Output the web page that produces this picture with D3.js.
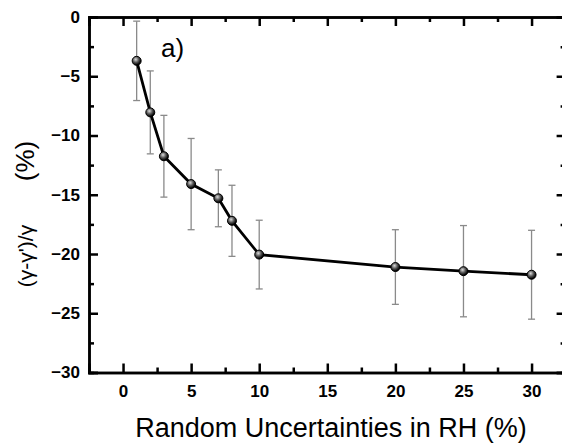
<!DOCTYPE html>
<html><head><meta charset="utf-8">
<script src="https://cdn.jsdelivr.net/npm/d3@7/dist/d3.min.js"></script>
<style>body{margin:0;background:#fff}svg{display:block}</style>
</head><body>
<script>
const xValues = [1, 2, 3, 5, 7, 8, 10, 20, 25, 30];
const yValues = [-3.7, -8.05, -11.75, -14.1, -15.3, -17.2, -20.05, -21.1, -21.45, -21.75];
const errValues = [3.35, 3.5, 3.45, 3.85, 2.4, 3.0, 2.9, 3.15, 3.85, 3.75];
const xTicks = [0, 5, 10, 15, 20, 25, 30];
const yTicks = [0, -5, -10, -15, -20, -25, -30];
const xLabel = "Random Uncertainties in RH (%)";
const yLabelA = "(γ-γ')/γ";
const yLabelB = "(%)";
const panelLabel = "a)";

(function () {
const W = 562, H = 446;
const svg = d3.select("body").append("svg").attr("width", W).attr("height", H);
const x = d3.scaleLinear().domain([-2.5, 32.5]).range([89, 565.6]);
const y = d3.scaleLinear().domain([-30, 0]).range([372.5, 17]);

const defs = svg.append("defs");
const grad = defs.append("radialGradient").attr("id", "ball").attr("cx", "40%").attr("cy", "35%").attr("r", "60%");
grad.append("stop").attr("offset", "0%").attr("stop-color", "#dcdcdc");
grad.append("stop").attr("offset", "55%").attr("stop-color", "#555");
grad.append("stop").attr("offset", "100%").attr("stop-color", "#000");

const x0 = x.range()[0], x1 = x.range()[1], y0 = y.range()[0], y1 = y.range()[1];
const minorX = d3.range(-2.5, 32.6, 2.5).filter(v => v % 5 !== 0);
const minorY = d3.range(-30, 0.1, 2.5).filter(v => v % 5 !== 0);

const gBottom = svg.append("g").attr("transform", `translate(0,${y0})`);
gBottom.call(d3.axisBottom(x).tickValues(xTicks).tickSize(-9).tickPadding(12.5).tickFormat(d3.format("d")));
gBottom.append("g").call(d3.axisBottom(x).tickValues(minorX).tickSize(-5).tickFormat(""));
const gTop = svg.append("g").attr("transform", `translate(0,${y1})`);
gTop.call(d3.axisTop(x).tickValues(xTicks).tickSize(-9).tickFormat(""));
gTop.append("g").call(d3.axisTop(x).tickValues(minorX).tickSize(-5).tickFormat(""));
const gLeft = svg.append("g").attr("transform", `translate(${x0},0)`);
gLeft.call(d3.axisLeft(y).tickValues(yTicks).tickSize(-9).tickPadding(9).tickFormat(d3.format("d")));
gLeft.append("g").call(d3.axisLeft(y).tickValues(minorY).tickSize(-5).tickFormat(""));
const gRight = svg.append("g").attr("transform", `translate(${x1},0)`);
gRight.call(d3.axisRight(y).tickValues(yTicks).tickSize(-9).tickFormat(""));
gRight.append("g").call(d3.axisRight(y).tickValues(minorY).tickSize(-5).tickFormat(""));

svg.selectAll(".domain").attr("stroke", "#000").attr("stroke-width", 2.5);
svg.selectAll(".tick line").attr("stroke", "#000").attr("stroke-width", 2.5);
svg.selectAll(".tick text").attr("font-family", "Liberation Sans, Arial, sans-serif")
  .attr("font-weight", "bold").attr("font-size", 17).attr("fill", "#000");

const data = xValues.map((v, i) => ({x: v, y: yValues[i], e: errValues[i]}));
const eb = svg.append("g").attr("stroke", "#8a8a8a").attr("stroke-width", 1.3).attr("fill", "none");
data.forEach(d => {
  eb.append("line").attr("x1", x(d.x)).attr("x2", x(d.x)).attr("y1", y(d.y + d.e)).attr("y2", y(d.y - d.e));
  eb.append("line").attr("x1", x(d.x) - 3.5).attr("x2", x(d.x) + 3.5).attr("y1", y(d.y + d.e)).attr("y2", y(d.y + d.e));
  eb.append("line").attr("x1", x(d.x) - 3.5).attr("x2", x(d.x) + 3.5).attr("y1", y(d.y - d.e)).attr("y2", y(d.y - d.e));
});

svg.append("path").datum(data)
  .attr("d", d3.line().x(d => x(d.x)).y(d => y(d.y)))
  .attr("fill", "none").attr("stroke", "#000").attr("stroke-width", 2.8);

svg.append("g").selectAll("circle").data(data).join("circle")
  .attr("cx", d => x(d.x)).attr("cy", d => y(d.y)).attr("r", 4.5)
  .attr("fill", "url(#ball)").attr("stroke", "#000").attr("stroke-width", 1);

const font = "Liberation Sans, Arial, sans-serif";
svg.append("text").attr("x", 331).attr("y", 437).attr("text-anchor", "middle")
  .attr("font-family", font).attr("font-size", 27).attr("fill", "#000").text(xLabel);
svg.append("text").attr("transform", "translate(33,256) rotate(-90)").attr("text-anchor", "middle")
  .attr("font-family", font).attr("font-size", 21).attr("fill", "#000").text(yLabelA);
svg.append("text").attr("transform", "translate(34,161) rotate(-90)").attr("text-anchor", "middle")
  .attr("font-family", font).attr("font-size", 26).attr("fill", "#000").text(yLabelB);
svg.append("text").attr("x", 161).attr("y", 57)
  .attr("font-family", font).attr("font-size", 26).attr("fill", "#000").text(panelLabel);
})();
</script>
</body></html>
